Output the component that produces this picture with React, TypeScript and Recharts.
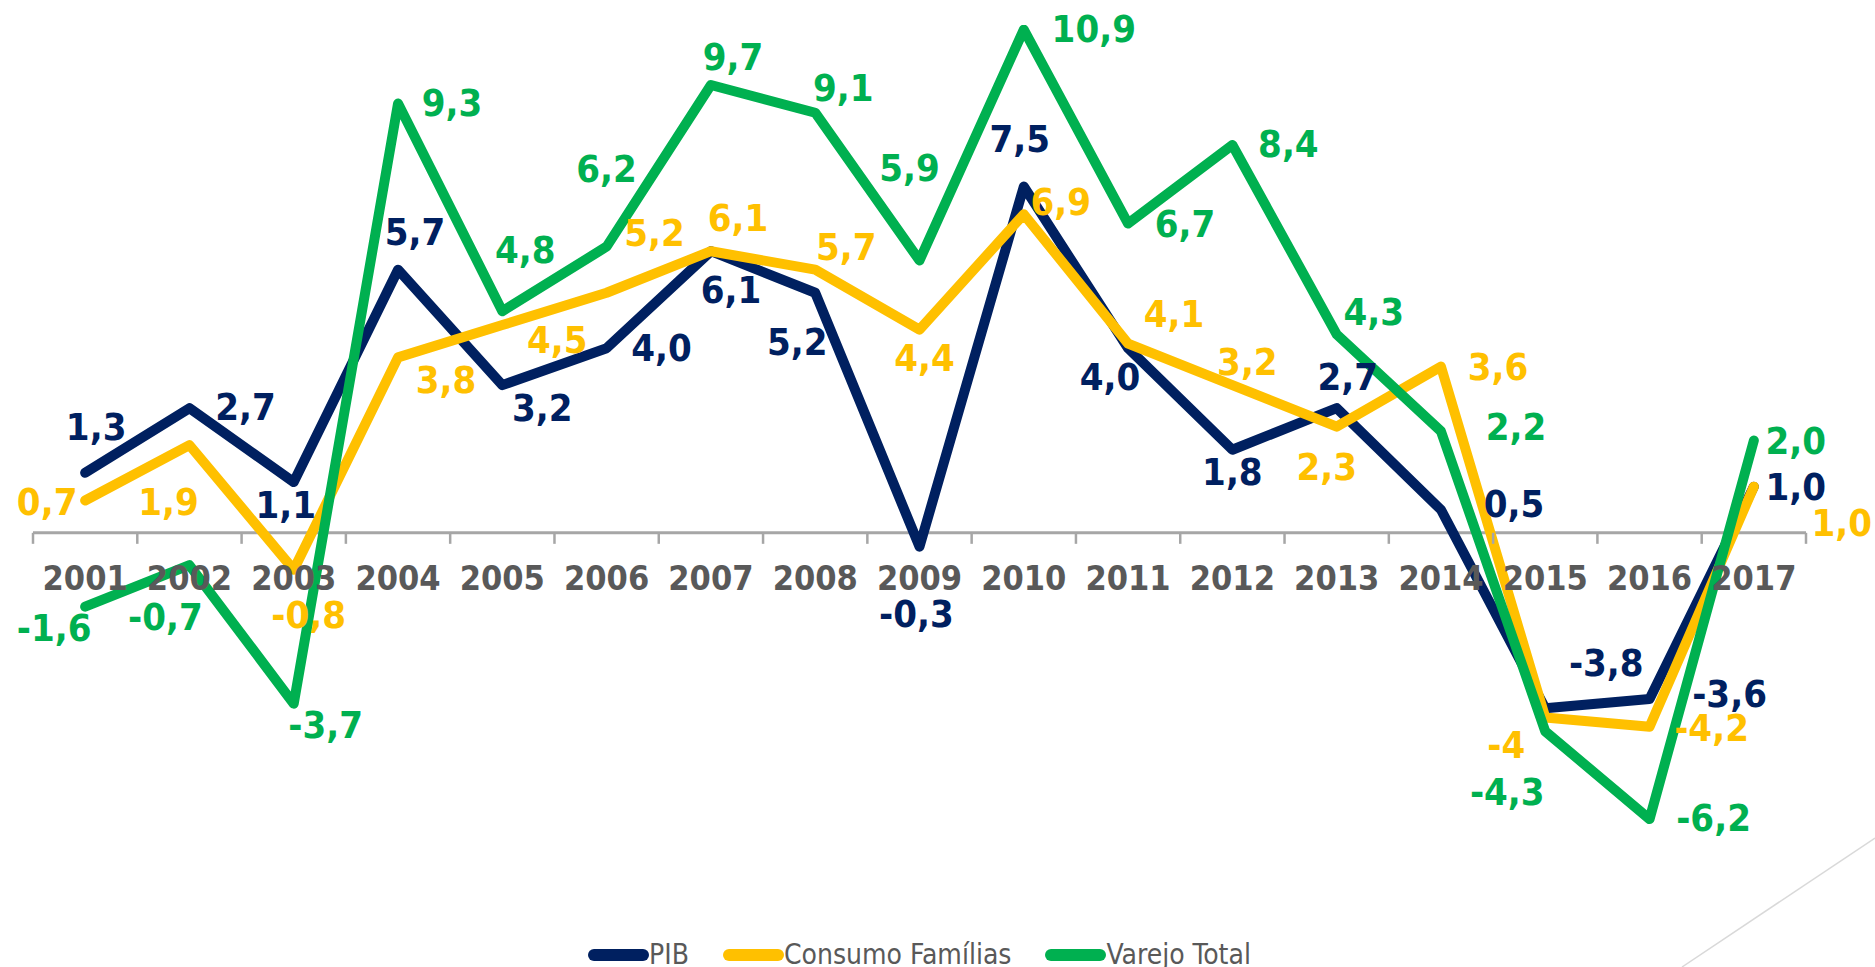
import React from "react";
import {
  LineChart,
  Line,
  XAxis,
  YAxis,
  ReferenceLine,
  Legend,
  LabelList,
} from "recharts";

// years on the category axis
const years = [
  "2001", "2002", "2003", "2004", "2005", "2006", "2007", "2008", "2009",
  "2010", "2011", "2012", "2013", "2014", "2015", "2016", "2017",
];

// annual variation (%)
const pib = [1.3, 2.7, 1.1, 5.7, 3.2, 4.0, 6.1, 5.2, -0.3, 7.5, 4.0, 1.8, 2.7, 0.5, -3.8, -3.6, 1.0];
const consumo = [0.7, 1.9, -0.8, 3.8, 4.5, 5.2, 6.1, 5.7, 4.4, 6.9, 4.1, 3.2, 2.3, 3.6, -4.0, -4.2, 1.0];
const varejo = [-1.6, -0.7, -3.7, 9.3, 4.8, 6.2, 9.7, 9.1, 5.9, 10.9, 6.7, 8.4, 4.3, 2.2, -4.3, -6.2, 2.0];

// data label placement: [dx, dy] of label centre from the point
const pibLabelPos = [
  [11, -46], [56, -1], [-8, 23], [17, -38], [40, 23], [55, 0], [20, 39], [-18, 49], [-3, 67],
  [-4, -48], [-18, 29], [0, 22], [11, -31], [73, -6], [61, -45], [80, -5], [42, 0],
];
const consumoLabelPos = [
  [-38, 1], [-21, 57], [15, 45], [48, 23], [55, 15], [48, -60], [27, -33], [31, -23], [5, 28],
  [37, -12], [46, -30], [15, -23], [-10, 40], [57, 0], [-39, 27], [62, 1], [88, 36],
];
const varejoLabelPos = [
  [-31, 21], [-24, 52], [32, 21], [54, 0], [23, -61], [0, -78], [22, -28], [28, -25], [-10, -92],
  [70, -1], [57, 0], [56, -1], [37, -22], [75, -4], [-38, 61], [64, -1], [42, 0],
];

// the source prints this one without decimals
const consumoLabelText: Record<number, string> = { 14: "-4" };

const data = years.map((year, i) => ({
  year,
  pib: pib[i],
  consumo: consumo[i],
  varejo: varejo[i],
}));

const NAVY = "#002060";
const YELLOW = "#FFC000";
const GREEN = "#00B050";
const AXIS = "#A6A6A6";
const GREY_TEXT = "#595959";
const FONT = "'DejaVu Sans Condensed', 'DejaVu Sans', sans-serif";

const series = [
  { key: "pib", name: "PIB", color: NAVY, pos: pibLabelPos, text: {} as Record<number, string> },
  { key: "consumo", name: "Consumo Famílias", color: YELLOW, pos: consumoLabelPos, text: consumoLabelText },
  { key: "varejo", name: "Varejo Total", color: GREEN, pos: varejoLabelPos, text: {} as Record<number, string> },
];

const W = 1875;
const H = 967;
const MARGIN = { top: 25, right: 69, bottom: 0, left: 33 };
const LEGEND_H = 40;
const X_AXIS_H = 71;
const Y_MIN = -7;
const Y_MAX = 11;

const plotTop = MARGIN.top;
const plotBottom = H - MARGIN.bottom - LEGEND_H - X_AXIS_H;
const zeroY = plotTop + ((plotBottom - plotTop) * Y_MAX) / (Y_MAX - Y_MIN);
const band = (W - MARGIN.left - MARGIN.right) / years.length;

const fmt = (v: number) => v.toFixed(1).replace(".", ",");

// axis sits on the zero line, ticks between categories like Excel
function YearTick(props: any) {
  const { x, index, payload } = props;
  const last = index === years.length - 1;
  return (
    <g>
      <line x1={x - band / 2} x2={x - band / 2} y1={zeroY} y2={zeroY + 11} stroke={AXIS} strokeWidth={2.5} />
      {last && (
        <line x1={x + band / 2} x2={x + band / 2} y1={zeroY} y2={zeroY + 11} stroke={AXIS} strokeWidth={2.5} />
      )}
      <text
        x={x}
        y={zeroY + 45}
        textAnchor="middle"
        dominantBaseline="central"
        fill={GREY_TEXT}
        fontSize={34}
        fontWeight="bold"
        fontFamily={FONT}
      >
        {payload.value}
      </text>
    </g>
  );
}

function makeLabel(s: (typeof series)[number]) {
  return (props: any) => {
    const { index, value } = props;
    const px = props.viewBox?.x ?? props.x;
    const py = props.viewBox?.y ?? props.y;
    if (px == null || py == null) return null;
    const [dx, dy] = s.pos[index] || [0, 0];
    const txt = s.text[index] ?? fmt(Number(value));
    return (
      <text
        key={`${s.key}-${index}`}
        x={px + dx}
        y={py + dy}
        textAnchor="middle"
        dominantBaseline="central"
        fill={s.color}
        fontSize={38}
        fontWeight="bold"
        fontFamily={FONT}
      >
        {txt}
      </text>
    );
  };
}

function LegendContent() {
  return (
    <div
      style={{
        display: "flex",
        justifyContent: "center",
        alignItems: "center",
        height: LEGEND_H,
        paddingTop: 15,
        boxSizing: "border-box",
        fontFamily: FONT,
        fontSize: 28,
        color: GREY_TEXT,
        lineHeight: 1,
      }}
    >
      {series.map((s, i) => (
        <div key={s.key} style={{ display: "flex", alignItems: "center", marginLeft: i ? 34 : 0 }}>
          <span
            style={{
              display: "inline-block",
              width: 61,
              height: 12,
              borderRadius: 6,
              background: s.color,
            }}
          />
          <span>{s.name}</span>
        </div>
      ))}
    </div>
  );
}

export default function App() {
  return (
    <div style={{ position: "absolute", left: 0, top: 0, width: W, height: H, background: "#fff" }}>
      <LineChart width={W} height={H} data={data} margin={MARGIN}>
        <XAxis
          dataKey="year"
          interval={0}
          axisLine={false}
          tickLine={false}
          height={X_AXIS_H}
          padding={{ left: band / 2, right: band / 2 }}
          tick={<YearTick />}
        />
        <YAxis hide type="number" domain={[Y_MIN, Y_MAX]} allowDataOverflow />
        <ReferenceLine y={0} stroke={AXIS} strokeWidth={3} />

        {series.map((s) => (
          <Line
            key={s.key}
            type="linear"
            dataKey={s.key}
            name={s.name}
            stroke={s.color}
            strokeWidth={10}
            strokeLinejoin="round"
            strokeLinecap="round"
            dot={false}
            activeDot={false}
            isAnimationActive={false}
          />
        ))}

        {/* labels drawn after every line so they sit on top */}
        {series.map((s) => (
          <Line
            key={`${s.key}-labels`}
            dataKey={s.key}
            stroke="none"
            dot={false}
            activeDot={false}
            legendType="none"
            isAnimationActive={false}
          >
            <LabelList dataKey={s.key} content={makeLabel(s)} />
          </Line>
        ))}

        <Legend verticalAlign="bottom" align="center" height={LEGEND_H} content={<LegendContent />} />
      </LineChart>
      <svg
        width={W}
        height={H}
        style={{ position: "absolute", left: 0, top: 0, pointerEvents: "none" }}
      >
        <line x1={1682} y1={967} x2={1875} y2={838} stroke="#D9D9D9" strokeWidth={1.5} />
      </svg>
    </div>
  );
}
